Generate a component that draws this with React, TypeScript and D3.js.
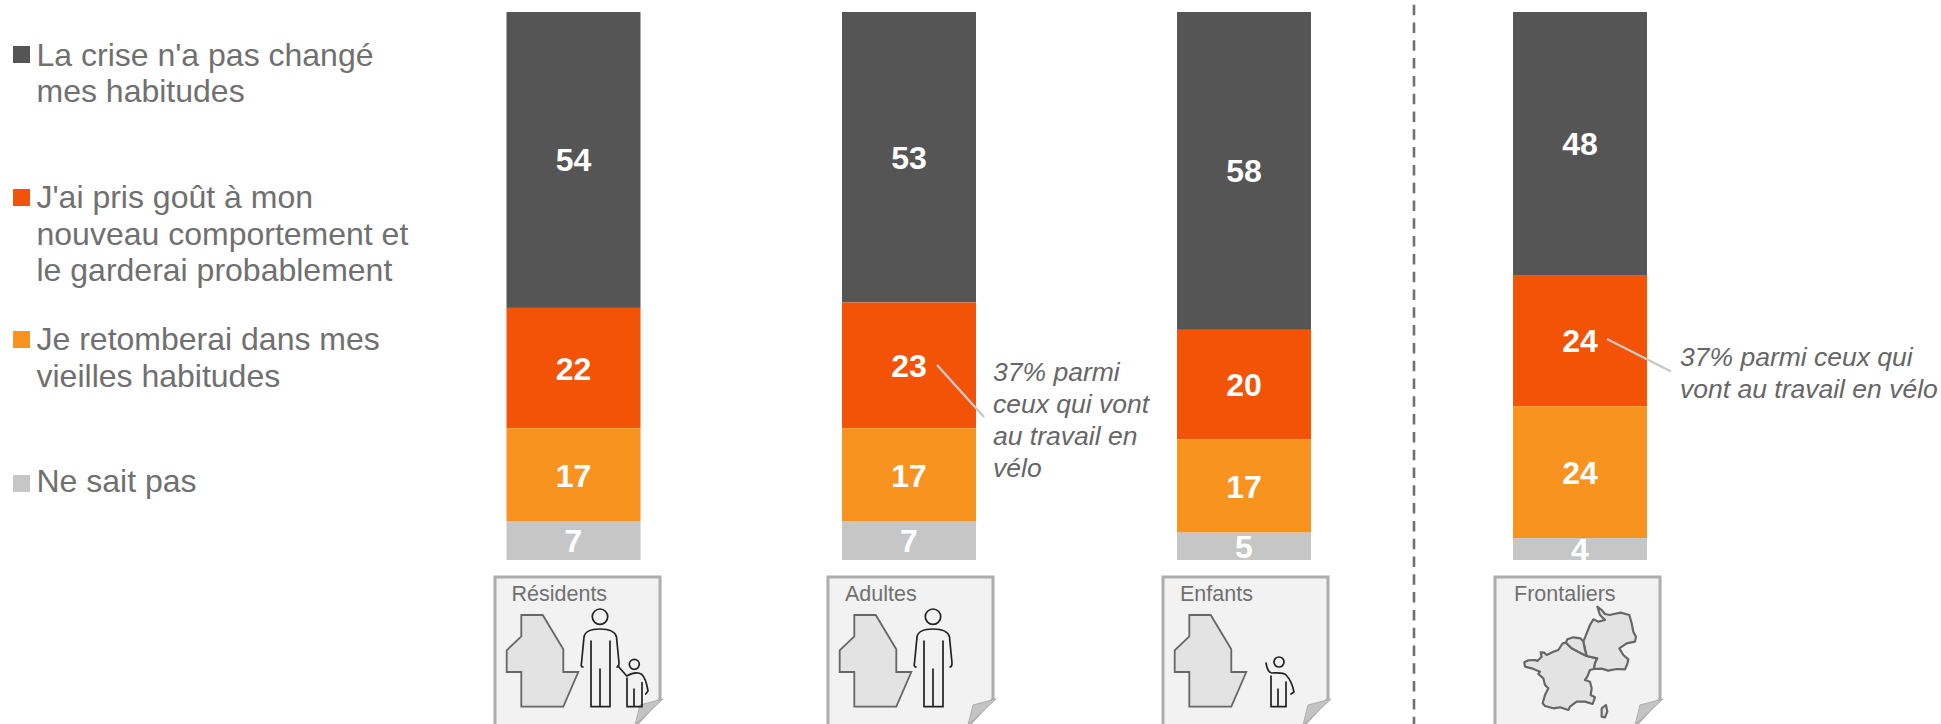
import React from "react";
import * as d3 from "d3";

const groups = ["Résidents", "Adultes", "Enfants", "Frontaliers"];
const seriesNames = [
  ["La crise n'a pas changé", "mes habitudes"],
  ["J'ai pris goût à mon", "nouveau comportement et", "le garderai probablement"],
  ["Je retomberai dans mes", "vieilles habitudes"],
  ["Ne sait pas"],
];
const seriesColors = ["#555555", "#f25306", "#f7931e", "#c6c6c6"];
const unchanged = [54, 53, 58, 48];
const keepNew = [22, 23, 20, 24];
const fallBack = [17, 17, 17, 24];
const dontKnow = [7, 7, 5, 4];
const seriesValues = [unchanged, keepNew, fallBack, dontKnow];

const barLeft = [506.5, 842, 1177, 1513];
const pageLeft = [495, 828, 1163, 1495];
const labelLeft = [16.5, 17, 17, 19];
const legendY = [65.5, 208, 350, 492];
const legendSquareY = [46, 189, 331, 475];
const TEXT = "#707070";
const FONT = "'Liberation Sans', Arial, sans-serif";

const y = d3.scaleLinear().domain([0, 100]).range([560, 12]);
const BAR_W = 134;

const luxMap: [number, number][] = [[26.3, 38], [47.7, 38], [68.3, 72.3], [68.3, 95], [83.3, 95], [68.3, 129.7], [26.3, 129.7], [26.3, 95], [11.7, 95], [11.7, 73.3], [26.3, 59.3]];
const france: [number, number][] = [[103,187],[115,181],[135,180],[142,183],[155,170],[152,157],[163,158],[170,165],[190,155],[205,150],[218,130],[228,128],[245,145],[270,158],[290,168],[322,175],[315,190],[312,207],[300,210],[292,230],[285,240],[300,245],[305,265],[302,285],[315,292],[308,312],[285,305],[260,305],[240,320],[235,330],[210,322],[190,325],[165,318],[158,310],[165,285],[175,265],[165,255],[160,235],[145,222],[150,215],[125,205],[105,200]];
const germany: [number, number][] = [[322,20],[335,30],[345,42],[360,45],[372,42],[392,38],[418,45],[425,70],[430,95],[438,110],[435,125],[410,130],[388,145],[400,165],[415,178],[412,192],[405,208],[380,207],[355,212],[335,206],[312,207],[315,190],[322,175],[290,168],[280,125],[290,100],[300,75],[310,58],[325,65],[345,60],[330,45]];
const belgium: [number, number][] = [[228,128],[232,118],[250,112],[272,115],[280,125],[285,150],[290,168],[270,158],[245,145]];
const corsica: [number, number][] = [[335,325],[348,315],[352,335],[345,352],[335,350]];

function Page({ x, label, kind, labelX }: { x: number; label: string; kind: string; labelX: number }) {
  const line = d3.line();
  const ink = { fill: "none", stroke: "#222", strokeWidth: 1.7, strokeLinejoin: "round" as const, strokeLinecap: "round" as const };
  return (
    <g transform={`translate(${x},577)`}>
      <path d="M0,0H165V122L140,149H0Z" fill="#f2f2f2" stroke="#adadad" strokeWidth={3} />
      <path d="M168,122L145,128L140,148Z" fill="#c4c4c4" stroke="#adadad" strokeWidth={1} />
      <text x={labelX} y={24} fontSize={21.5} fill={TEXT} fontFamily={FONT}>{label}</text>
      {kind !== "map" && <path d={line(luxMap) + "Z"} fill="#e3e3e3" stroke="#666" strokeWidth={1.8} />}
      {(kind === "both" || kind === "adult") && (
        <g {...ink}>
          <circle cx={105} cy={39.7} r={7.7} />
          <path d="M88,90C86,90 86,88 86.5,86L89,60C90,54 97,52 105,52C113,52 120,54 121.5,60L124,86C124,88 124,90 122,90" />
          <path d="M96,64V129.7H115V64M105,92V129.7" />
        </g>
      )}
      {kind === "both" && (
        <g {...ink}>
          <circle cx={139.3} cy={87.3} r={5} />
          <path d="M123,89L131.7,99C137,96 143,95 146.7,97.3C150,100 152,108 153,114L150.7,117" />
          <path d="M132,101V129.7H147V105.7M139,112V129.7" />
        </g>
      )}
      {kind === "child" && (
        <g {...ink}>
          <circle cx={116} cy={85} r={5} />
          <path d="M103,86C104,92 106,96 109,96C114,96 120,95 123,98C127,102 130,110 131,115L128,117" />
          <path d="M108,99V129.7H123V105M115,112V129.7" />
        </g>
      )}
      {kind === "map" && (
        <g transform="translate(-5,23) scale(0.3333)" fill="#e3e3e3" stroke="#666" strokeWidth={6.5} strokeLinejoin="round">
          <path d={line(france) + "Z"} />
          <path d={line(germany) + "Z"} />
          <path d={line(belgium) + "Z"} />
          <path d={line(corsica) + "Z"} />
        </g>
      )}
    </g>
  );
}

export default function App() {
  return (
    <svg width={1941} height={724} style={{ position: "absolute", left: 0, top: 0, display: "block" }}>
      <rect width={1941} height={724} fill="#fff" />
      {seriesNames.map((lines, i) => (
        <g key={i}>
          <rect x={13} y={legendSquareY[i]} width={17} height={17} fill={seriesColors[i]} />
          {lines.map((t, j) => (
            <text key={j} x={36.5} y={legendY[i] + j * 36.7} fontSize={32} fill={TEXT} fontFamily={FONT}>{t}</text>
          ))}
        </g>
      ))}
      {groups.map((g, gi) => {
        let acc = 0;
        return (
          <g key={g}>
            {seriesValues.map((vals, si) => {
              const v = vals[gi];
              const t = y(100 - acc);
              const b = y(100 - acc - v);
              acc += v;
              return (
                <g key={si}>
                  <rect x={barLeft[gi]} y={t} width={BAR_W} height={b - t} fill={seriesColors[si]} />
                  <text x={barLeft[gi] + BAR_W / 2} y={(t + b) / 2 + 11.5} textAnchor="middle" fontSize={32} fontWeight={700} fill="#fff" fontFamily={FONT}>{v}</text>
                </g>
              );
            })}
          </g>
        );
      })}
      <line x1={937} y1={365} x2={984} y2={417} stroke="#c8c8c8" strokeWidth={2.5} />
      <line x1={1607} y1={339} x2={1671} y2={371.5} stroke="#c8c8c8" strokeWidth={2.5} />
      {["37% parmi", "ceux qui vont", "au travail en", "vélo"].map((t, i) => (
        <text key={t} x={993} y={380.5 + i * 32.2} fontSize={26.5} fontStyle="italic" fill="#666" fontFamily={FONT}>{t}</text>
      ))}
      {["37% parmi ceux qui", "vont au travail en vélo"].map((t, i) => (
        <text key={t} x={1680} y={365.5 + i * 32} fontSize={26.5} fontStyle="italic" fill="#666" fontFamily={FONT}>{t}</text>
      ))}
      <line x1={1414} y1={4.7} x2={1414} y2={724} stroke="#707070" strokeWidth={2.6} strokeDasharray="10.5 7.3" />
      {groups.map((g, i) => (
        <Page key={g} x={pageLeft[i]} label={g} labelX={labelLeft[i]} kind={["both", "adult", "child", "map"][i]} />
      ))}
    </svg>
  );
}
